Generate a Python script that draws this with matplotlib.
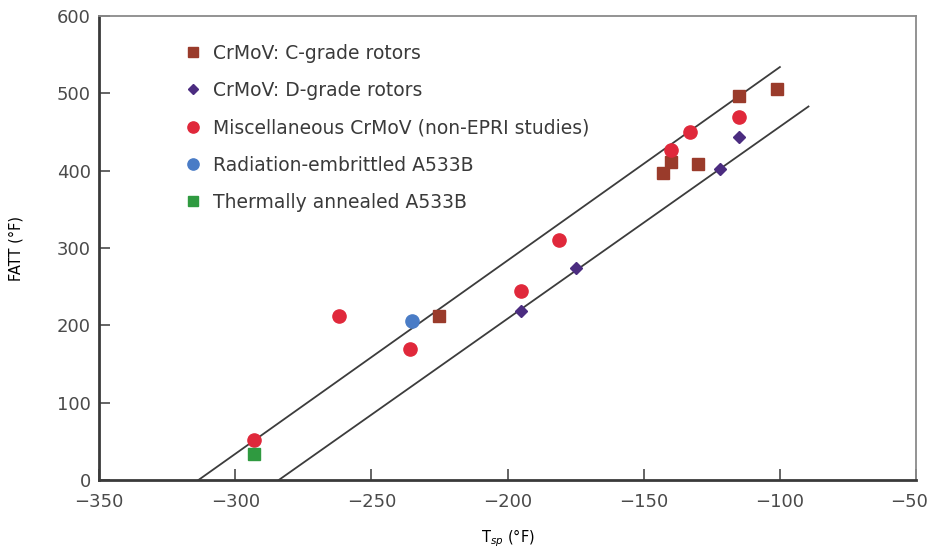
import matplotlib
matplotlib.use("Agg")
import matplotlib.pyplot as plt
from matplotlib.transforms import ScaledTranslation

plt.rcParams.update({
    "font.family": ["DejaVu Sans"],
    "font.size": 11,
    "text.color": "#3a3a3a",
    "xtick.color": "#3a3a3a",
    "ytick.color": "#3a3a3a",
})

# data
c_grade_t = [-225, -115, -101, -140, -143, -130]
c_grade_f = [212, 497, 506, 411, 397, 408]

d_grade_t = [-115, -122, -175, -195]
d_grade_f = [444, 402, 274, 219]

misc_t = [-262, -236, -293, -195, -181, -140, -133, -115]
misc_f = [212, 169, 52, 245, 310, 427, 450, 470]

rad_t = [-235]
rad_f = [205]

anneal_t = [-293]
anneal_f = [34]

# scatter band limits
upper_t = [-313.5, -100]
upper_f = [0, 534]
lower_t = [-284, -89.5]
lower_f = [0, 483]

fig = plt.figure(figsize=(9.3, 5.52), dpi=100)
ax = fig.add_axes([0.1065, 0.1304, 0.8785, 0.8406])

ax.plot(upper_t, upper_f, color="#3c3c3c", lw=1.3, zorder=1)
ax.plot(lower_t, lower_f, color="#3c3c3c", lw=1.3, zorder=1)

ax.plot(c_grade_t, c_grade_f, "s", ms=9, color="#9a3b2b", ls="none",
        label="CrMoV: C-grade rotors", zorder=3)
ax.plot(d_grade_t, d_grade_f, "D", ms=6.5, color="#4b2c80", ls="none",
        label="CrMoV: D-grade rotors", zorder=3)
ax.plot(misc_t, misc_f, "o", ms=9.5, color="#e0283b", ls="none",
        label="Miscellaneous CrMoV (non-EPRI studies)", zorder=3)
ax.plot(rad_t, rad_f, "o", ms=9.5, color="#4a7cc6", ls="none",
        label="Radiation-embrittled A533B", zorder=3)
ax.plot(anneal_t, anneal_f, "s", ms=9, color="#2f9a40", ls="none",
        label="Thermally annealed A533B", zorder=3)

ax.set_xlim(-350, -50)
ax.set_ylim(0, 600)
ax.set_xticks(range(-350, -49, 50))
ax.set_yticks(range(0, 601, 100))
ax.set_xticklabels(["\u2212" + str(-v) for v in range(-350, -49, 50)])
ax.tick_params(direction="in", length=8, width=1.2, labelsize=13,
               colors="#4a4a4a")
ax.tick_params(axis="x", pad=9)
ax.tick_params(axis="y", pad=6)

# keep the last x label inside the figure
last = ax.get_xticklabels()[-1]
last.set_transform(last.get_transform() + ScaledTranslation(-0.07, 0, fig.dpi_scale_trans))

for side in ["left", "bottom"]:
    ax.spines[side].set_color("#3a3a3a")
    ax.spines[side].set_linewidth(2)
for side in ["top", "right"]:
    ax.spines[side].set_color("#8a8a8a")
    ax.spines[side].set_linewidth(1.3)

ax.set_xlabel(r"T$_{sp}$ ($\degree$F)", fontsize=10.5, labelpad=12)
ax.set_ylabel("FATT (\u00b0F)", fontsize=10.5, labelpad=24)

ax.legend(loc="upper left", bbox_to_anchor=(0.083, 0.977), frameon=False,
          fontsize=13.5, labelspacing=0.98, handletextpad=0.55,
          markerscale=0.85, handlelength=1.0)

fig.savefig("out.png", dpi=100)
